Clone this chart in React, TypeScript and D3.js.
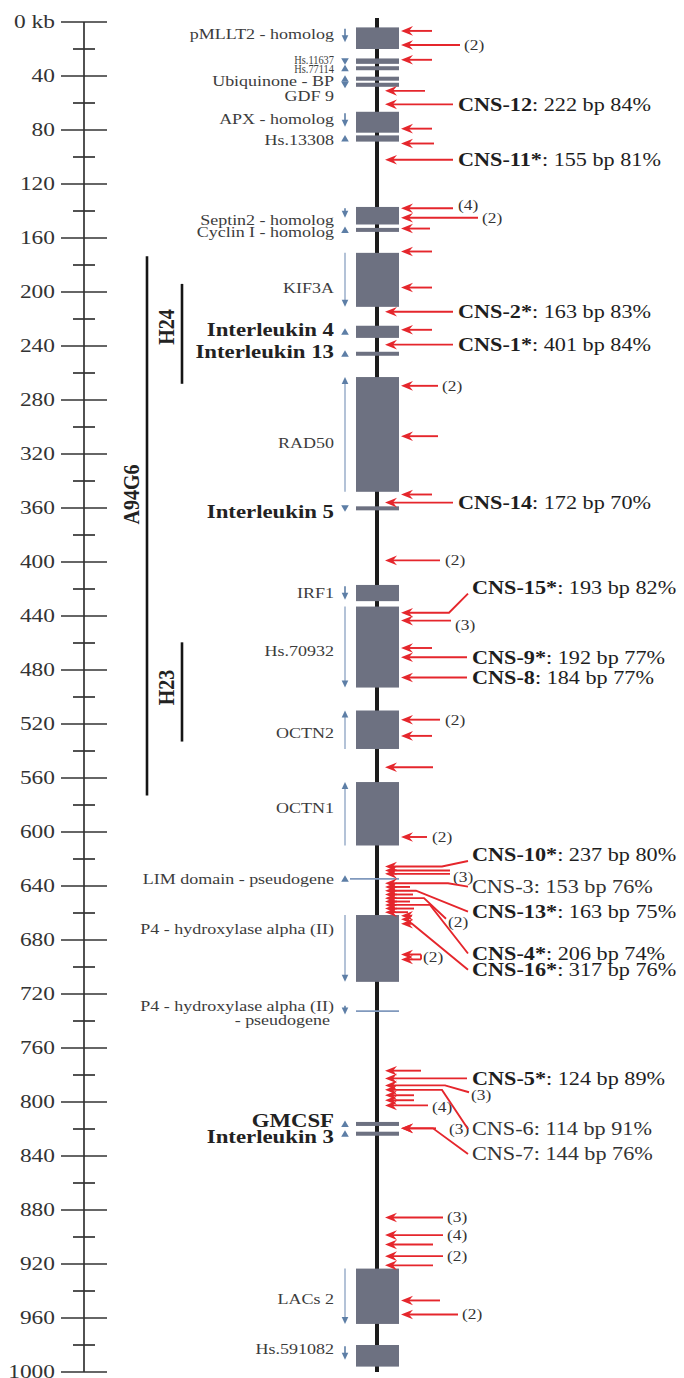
import React from "react";
import * as d3 from "d3";

const W = 684;
const H = 1378;

// ---------------- data ----------------
const majorTicks = [0, 40, 80, 120, 160, 200, 240, 280, 320, 360, 400, 440, 480, 520, 560, 600, 640, 680, 720, 760, 800, 840, 880, 920, 960, 1000];
const majorTickLabels = ["0 kb", "40", "80", "120", "160", "200", "240", "280", "320", "360", "400", "440", "480", "520", "560", "600", "640", "680", "720", "760", "800", "840", "880", "920", "960", "1000"];
const minorTicks = [20, 60, 100, 140, 180, 220, 260, 300, 340, 380, 420, 460, 500, 540, 580, 620, 660, 700, 740, 780, 820, 860, 900, 940, 980];

const cloneNames = ["A94G6", "H24", "H23"];
const cloneStart = [173.6, 194, 459.5];
const cloneEnd = [573, 268, 533];
const cloneLabelKb = [350, 226, 493];
const cloneLevel = [0, 1, 1];

const geneNames = [
  "pMLLT2 - homolog", "Hs.11637", "Hs.77114", "Ubiquinone - BP", "GDF  9", "APX - homolog", "Hs.13308",
  "Septin2 - homolog", "Cyclin I - homolog", "KIF3A", "Interleukin  4", "Interleukin 13", "RAD50",
  "Interleukin 5", "IRF1", "Hs.70932", "OCTN2", "OCTN1", "LIM domain - pseudogene",
  "P4 - hydroxylase alpha (II)", "P4 - hydroxylase alpha (II)|- pseudogene", "GMCSF", "Interleukin 3",
  "LACs 2", "Hs.591082",
];
const geneStart = [4, 27, 33.5, 41, 45, 66.5, 84, 137, 153, 171, 225, 245, 263, 359, 417, 433, 510, 563, 634.7, 661.5, 732.7, 815, 822, 923.4, 980];
const geneEnd = [20, 31, 35, 43, 48, 82, 88.6, 150, 155, 211, 234, 246.5, 348, 361.5, 429, 493, 538.5, 610, 634.7, 711, 732.7, 817.5, 825, 964.4, 996];
const geneStrand = ["-", "-", "+", "+", "-", "-", "+", "-", "+", "-", "+", "+", "+", "-", "-", "-", "+", "+", "+", "-", "-", "+", "+", "-", "-"];
const geneMarker = ["short", "tri", "tri", "tri", "tri", "short", "tri", "short", "tri", "long", "tri", "tri", "long", "tri", "short", "long", "long", "long", "tri", "long", "short", "tri", "tri", "long", "short"];
const geneKind = ["box", "box", "box", "box", "box", "box", "box", "box", "box", "box", "box", "box", "box", "box", "box", "box", "box", "box", "line", "box", "line", "box", "box", "box", "box"];
const geneLabelKb = [8.6, 28, 35, 43.5, 55, 72, 87.5, 147, 155.8, 197, 228, 244, 312, 363, 423, 466, 527, 582, 634.5, 672, 729, 814, 826, 946, 983];
const geneBold = [false, false, false, false, false, false, false, false, false, false, true, true, false, true, false, false, false, false, false, false, false, true, true, false, false];

const plainArrowKb = [6.6, 28, 51, 79, 90, 153, 170, 196.7, 228, 306.8, 350, 463.7, 528.8, 552, 631, 640.7, 646.3, 651.5, 656.7, 659.4, 662, 664.7, 776.8, 795, 798.7, 905.6, 921, 947];

const bracketArrowKb = [690.7, 694.4];
const bracketText = "(2)";

const countText = ["(2)", "(4)", "(2)", "(2)", "(2)", "(3)", "(2)", "(2)", "(3)", "(2)", "(3)", "(4)", "(3)", "(3)", "(4)", "(2)", "(2)"];
const countArrowKb = [17, 138, 145, 269.5, 398.8, 443.4, 516.8, 603.7, 628.5, 649, 787.7, 802.5, 819.5, 885.5, 898.6, 914.2, 957.4];
const countLabelKb = [17, 135.5, 145, 269.5, 398.8, 446.5, 516.8, 603.7, 633, 666.5, 795, 804, 820, 885.5, 898.6, 914.2, 957.4];

const cnsNames = ["CNS-12", "CNS-11*", "CNS-2*", "CNS-1*", "CNS-14", "CNS-15*", "CNS-9*", "CNS-8", "CNS-10*", "CNS-3", "CNS-13*", "CNS-4*", "CNS-16*", "CNS-5*", "CNS-6", "CNS-7"];
const cnsInfo = [": 222 bp 84%", ": 155 bp 81%", ": 163 bp 83%", ": 401 bp 84%", ": 172 bp 70%", ": 193 bp 82%", ": 192 bp 77%", ": 184 bp 77%", ": 237 bp 80%", ": 153 bp 76%", ": 163 bp 75%", ": 206 bp 74%", ": 317 bp 76%", ": 124 bp 89%", ": 114 bp 91%", ": 144 bp 76%"];
const cnsBold = [true, true, true, true, true, true, true, true, true, false, true, true, true, true, false, false];
const cnsArrowKb = [61, 102, 214.6, 239, 356, 437.6, 470.5, 485.6, 625.5, 638, 643.5, 654, 668, 782.5, 791, 819.5];
const cnsLabelKb = [61, 102, 214.6, 239, 356, 419, 470.5, 485.6, 617, 640.5, 659, 690, 702, 782.5, 820, 838.5];

// ---------------- layout ----------------
const FONT = '"Liberation Serif","Times New Roman",Times,serif';
const SX = 1.2;
const AX = 84;
const LINE_X = 377;
const BOX_L = 356;
const BOX_R = 399;
const MARK_X = 345;
const LABEL_R = 334;
const RED = "#e5262c";
const BOX_FILL = "#6d7181";
const MARK = "#5d7ea6";
const MARK_LINE = "#8099bd";

const plainTailX = [432, 432, 425, 432, 434, 430, 432, 432, 432, 438, 432, 432, 432, 433, 450, 410, 413, 410, 414, 408, 412, 408, 421, 414, 414, 433, 433, 440];
const countLabelX = [464, 458, 482, 442, 445, 455, 445, 432, 453, 448, 471, 432, 449, 447, 447, 447, 462];
const countTailX = [460, 453, 478, 438, 440, 451, 440, 427, 450, 0, 0, 428, 436, 443, 443, 443, 458];
const countBendX = [0, 0, 0, 0, 0, 0, 0, 0, 0, 424, 445, 0, 0, 0, 0, 0, 0];
const cnsCol = [0, 0, 0, 0, 0, 1, 1, 1, 1, 1, 1, 1, 1, 1, 1, 1];
const cnsBendX = [0, 0, 0, 0, 0, 449, 0, 0, 442, 448, 416, 430, 412, 0, 442, 433];
const squeeze: Record<number, number> = { 1: 0.8, 2: 0.8 };

function Txt(props: any) {
  const { x, y, size, bold, anchor = "start", sx = SX, fill = "#2b2b2b", children } = props;
  return (
    <text
      transform={`translate(${x},${y}) scale(${sx},1)`}
      fontSize={size}
      fontWeight={bold ? "bold" : "normal"}
      textAnchor={anchor}
      dominantBaseline="central"
      fontFamily={FONT}
      fill={fill}
    >
      {children}
    </text>
  );
}

export default function App() {
  const y = d3.scaleLinear().domain([0, 1000]).range([22, 1372]);

  const inBox = (kb: number) =>
    geneNames.some((_, i) => geneKind[i] === "box" && kb >= geneStart[i] - 1.5 && kb <= geneEnd[i] + 2);
  const tipX = (kb: number) => (inBox(kb) ? BOX_R + 2 : LINE_X + 8);

  const head = (tx: number, yy: number) =>
    `M${tx},${yy} L${tx + 12},${yy - 4.8} L${tx + 8},${yy} L${tx + 12},${yy + 4.8} Z`;

  const arrow = (key: string, kb: number, pts: [number, number][]) => {
    const tx = tipX(kb);
    const yy = y(kb);
    const line = d3.line()([[tx + 7, yy], ...pts] as [number, number][]);
    return (
      <g key={key}>
        <path d={line || ""} fill="none" stroke={RED} strokeWidth={1.9} />
        <path d={head(tx, yy)} fill={RED} />
      </g>
    );
  };

  const triPath = (cx: number, cy: number, up: boolean) =>
    up
      ? `M${cx},${cy - 3.5} L${cx + 3.8},${cy + 3} L${cx - 3.8},${cy + 3} Z`
      : `M${cx},${cy + 3.5} L${cx + 3.8},${cy - 3} L${cx - 3.8},${cy - 3} Z`;

  const strandArrow = (i: number) => {
    const up = geneStrand[i] === "+";
    let a: number, b: number;
    if (geneMarker[i] === "long") {
      a = geneStart[i];
      b = geneEnd[i];
    } else if (geneKind[i] === "line") {
      a = geneStart[i] - 4;
      b = geneStart[i] + 2.5;
    } else {
      a = geneStart[i] + 1;
      b = Math.min(geneEnd[i] - 1, geneStart[i] + 11);
      if (i === 7) b = geneStart[i] + 8;
    }
    const y1 = y(a);
    const y2 = y(b);
    const from = up ? y2 : y1;
    const to = up ? y1 : y2;
    const dir = up ? -1 : 1;
    return (
      <g key={`sa${i}`}>
        <line x1={MARK_X} x2={MARK_X} y1={from} y2={to - dir * 5} stroke={geneMarker[i] === "long" ? MARK_LINE : MARK} strokeWidth={geneMarker[i] === "long" ? 1.2 : 1.6} />
        <path d={`M${MARK_X},${to} L${MARK_X - 3.3},${to - dir * 7} L${MARK_X + 3.3},${to - dir * 7} Z`} fill={MARK} />
      </g>
    );
  };

  return (
    <div style={{ position: "absolute", left: 0, top: 0, width: W, height: H, background: "#fff" }}>
      <svg width={W} height={H} viewBox={`0 0 ${W} ${H}`}>
        <rect x={0} y={0} width={W} height={H} fill="#fff" />

        {/* kb axis */}
        <line x1={AX} x2={AX} y1={y(0)} y2={y(1000)} stroke="#333" strokeWidth={1.7} />
        {majorTicks.map((t, i) => (
          <g key={`mt${t}`}>
            <line x1={AX - 23} x2={AX + 23} y1={y(t)} y2={y(t)} stroke="#333" strokeWidth={1.7} />
            <Txt x={AX - 29} y={y(t)} size={19.5} anchor="end" fill="#333">
              {majorTickLabels[i]}
            </Txt>
          </g>
        ))}
        {minorTicks.map((t) => (
          <line key={`mn${t}`} x1={AX - 11} x2={AX + 11} y1={y(t)} y2={y(t)} stroke="#333" strokeWidth={1.7} />
        ))}

        {/* clones */}
        {cloneNames.map((n, i) => {
          const lx = cloneLevel[i] === 0 ? 147 : 182;
          const tx = cloneLevel[i] === 0 ? 131 : 166;
          return (
            <g key={n}>
              <line x1={lx} x2={lx} y1={y(cloneStart[i])} y2={y(cloneEnd[i])} stroke="#151515" strokeWidth={2.6} />
              <text
                transform={`translate(${tx},${y(cloneLabelKb[i])}) scale(${SX},1) rotate(-90)`}
                textAnchor="middle"
                dominantBaseline="central"
                fontFamily={FONT}
                fontWeight="bold"
                fontSize={20}
                fill="#222"
              >
                {n}
              </text>
            </g>
          );
        })}

        {/* chromosome line */}
        <line x1={LINE_X} x2={LINE_X} y1={y(-3)} y2={y(1000)} stroke="#1b1b1b" strokeWidth={4} />

        {/* genes */}
        {geneNames.map((n, i) => {
          const y1 = y(geneStart[i]);
          const y2 = y(geneEnd[i]);
          if (geneKind[i] === "line") {
            const x0 = i === 18 ? 350 : BOX_L;
            return <line key={`g${i}`} x1={x0} x2={BOX_R} y1={y1} y2={y1} stroke={MARK_LINE} strokeWidth={1.6} />;
          }
          const h = Math.max(4, y2 - y1);
          const yc = (y1 + y2) / 2;
          return <rect key={`g${i}`} x={BOX_L} y={yc - h / 2} width={BOX_R - BOX_L} height={h} fill={BOX_FILL} />;
        })}

        {/* strand markers */}
        {geneNames.map((n, i) => {
          if (geneMarker[i] === "tri") {
            const yc = y((geneStart[i] + geneEnd[i]) / 2);
            return <path key={`tm${i}`} d={triPath(MARK_X, yc, geneStrand[i] === "+")} fill={MARK} />;
          }
          return strandArrow(i);
        })}

        {/* gene labels */}
        {geneNames.map((n, i) => {
          const parts = n.split("|");
          const bold = geneBold[i];
          const size = bold ? 19 : squeeze[i] ? 13 : 15;
          const sx = squeeze[i] ?? SX;
          return parts.map((p, j) => (
            <Txt
              key={`gl${i}_${j}`}
              x={j === 0 ? LABEL_R : LABEL_R - 4}
              y={y(geneLabelKb[i]) + j * 14}
              size={size}
              bold={bold}
              anchor="end"
              sx={sx}
              fill={bold ? "#222" : "#3c3c3c"}
            >
              {p}
            </Txt>
          ));
        })}

        {/* plain arrows */}
        {plainArrowKb.map((kb, i) => arrow(`pa${i}`, kb, [[plainTailX[i], y(kb)]]))}

        {/* bracket arrows */}
        {bracketArrowKb.map((kb, i) => arrow(`ba${i}`, kb, [[421, y(kb)]]))}
        <line x1={421} x2={421} y1={y(bracketArrowKb[0])} y2={y(bracketArrowKb[1])} stroke={RED} strokeWidth={1.9} />
        <Txt x={423} y={y(d3.mean(bracketArrowKb) as number)} size={14.5} fill="#333">
          {bracketText}
        </Txt>

        {/* count labels */}
        {countText.map((t, i) => {
          const kb = countArrowKb[i];
          const lx = countLabelX[i];
          const pts: [number, number][] =
            countBendX[i] > 0
              ? [
                  [countBendX[i], y(kb)],
                  [lx - 2, y(countLabelKb[i]) - 3],
                ]
              : [[countTailX[i], y(kb)]];
          return (
            <g key={`c${i}`}>
              {arrow(`ca${i}`, kb, pts)}
              <Txt x={lx} y={y(countLabelKb[i])} size={14.5} fill="#333">
                {t}
              </Txt>
            </g>
          );
        })}

        {/* CNS labels */}
        {cnsNames.map((n, i) => {
          const kb = cnsArrowKb[i];
          const lx = cnsCol[i] === 0 ? 458 : 472;
          const ly = y(cnsLabelKb[i]);
          const above = cnsLabelKb[i] < kb - 3;
          const pts: [number, number][] =
            cnsBendX[i] > 0
              ? [
                  [cnsBendX[i], y(kb)],
                  [lx - 4, ly + (above ? 6 : 0)],
                ]
              : [[lx - 5, y(kb)]];
          return (
            <g key={`cns${i}`}>
              {arrow(`cna${i}`, kb, pts)}
              <Txt x={lx} y={ly} size={19} sx={1.17} fill={cnsBold[i] ? "#1e1e1e" : "#333"}>
                <tspan fontWeight={cnsBold[i] ? "bold" : "normal"}>{n}</tspan>
                <tspan>{cnsInfo[i]}</tspan>
              </Txt>
            </g>
          );
        })}
      </svg>
    </div>
  );
}
